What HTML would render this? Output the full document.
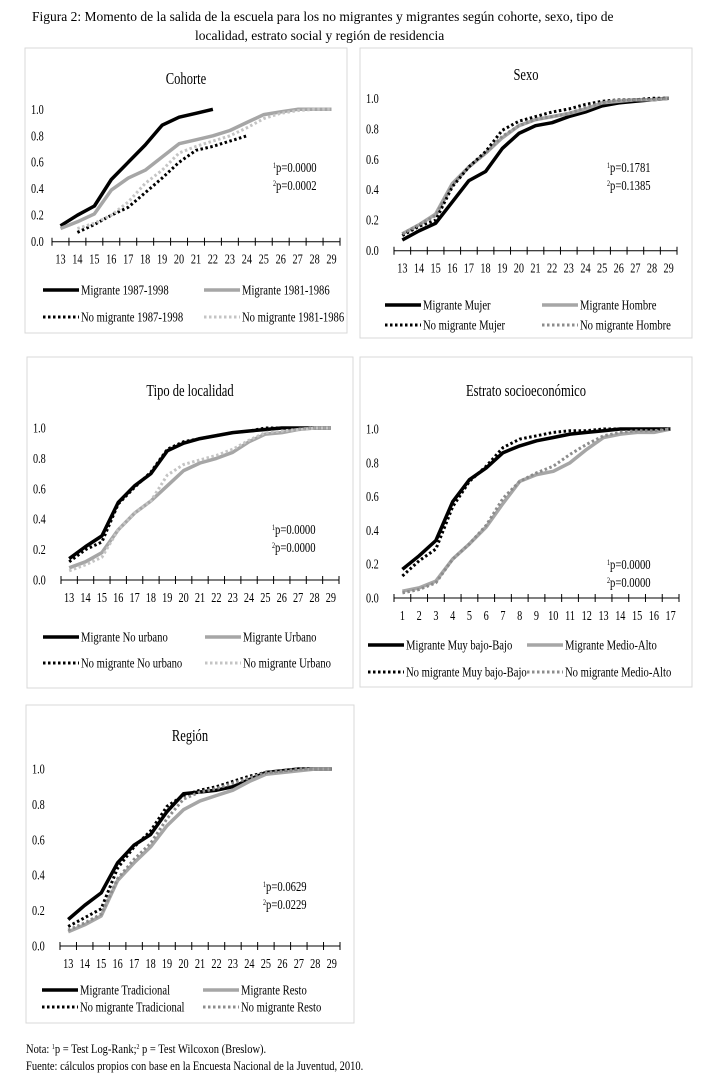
<!DOCTYPE html>
<html><head><meta charset="utf-8">
<style>
html,body{margin:0;padding:0;background:#fff;}
svg{display:block;font-family:"Liberation Serif",serif;}
</style></head>
<body>
<svg id="fig" width="705" height="1081" viewBox="0 0 705 1081" xmlns="http://www.w3.org/2000/svg">
<text x="32" y="21" font-size="13.5">Figura 2: Momento de la salida de la escuela para los no migrantes y migrantes según cohorte, sexo, tipo de</text>
<text x="195" y="40" font-size="13.5">localidad, estrato social y región de residencia</text>
<text x="26" y="1053" font-size="12.5" transform="translate(26 0) scale(0.84 1) translate(-26 0)">Nota: <tspan font-size="7" dy="-4">1</tspan><tspan dy="4">p = Test Log-Rank;</tspan><tspan font-size="7" dy="-4">2</tspan><tspan dy="4"> p = Test Wilcoxon (Breslow).</tspan></text>
<text x="26" y="1070" font-size="12.5" transform="translate(26 0) scale(0.84 1) translate(-26 0)">Fuente: cálculos propios con base en la Encuesta Nacional de la Juventud, 2010.</text>
</svg>
<script>
// ---- data ----
const ageCats = ["13","14","15","16","17","18","19","20","21","22","23","24","25","26","27","28","29"];
const estratoCats = ["1","2","3","4","5","6","7","8","9","10","11","12","13","14","15","16","17"];
const yTicks = [0,0.2,0.4,0.6,0.8,1.0];

const cohMig87 = [0.12,0.20,0.27,0.47,0.60,0.73,0.88,0.94,0.97,1.00,null,null,null,null,null,null,null];
const cohMig81 = [0.10,0.15,0.21,0.39,0.48,0.54,0.64,0.74,0.77,0.80,0.84,0.90,0.96,0.98,1.00,1.00,1.00];
const cohNM87 = [null,0.07,0.13,0.20,0.26,0.37,0.48,0.60,0.69,0.72,0.76,0.80,null,null,null,null,null];
const cohNM81 = [null,0.10,0.14,0.20,0.30,0.44,0.54,0.67,0.72,0.76,0.80,0.86,0.93,0.97,0.99,1.00,1.00];

const sexMigM = [0.07,0.13,0.18,0.32,0.46,0.52,0.67,0.77,0.82,0.84,0.88,0.91,0.95,0.97,0.98,0.99,1.00];
const sexMigH = [0.11,0.17,0.24,0.44,0.55,0.64,0.74,0.82,0.86,0.88,0.90,0.93,0.97,0.98,0.99,0.99,1.00];
const sexNMM = [0.10,0.16,0.20,0.42,0.55,0.65,0.79,0.85,0.88,0.91,0.93,0.96,0.98,0.99,0.99,1.00,1.00];
const sexNMH = [0.11,0.17,0.23,0.43,0.55,0.64,0.75,0.82,0.86,0.88,0.90,0.94,0.97,0.99,0.99,0.99,1.00];

const locMigNU = [0.14,0.22,0.29,0.51,0.62,0.70,0.85,0.90,0.93,0.95,0.97,0.98,0.99,1.00,1.00,1.00,1.00];
const locMigU = [0.08,0.12,0.18,0.33,0.44,0.52,0.62,0.72,0.77,0.80,0.84,0.91,0.96,0.97,0.99,1.00,1.00];
const locNMNU = [0.12,0.20,0.25,0.50,0.61,0.71,0.86,0.91,0.93,0.95,0.97,0.98,1.00,1.00,1.00,1.00,1.00];
const locNMU = [0.06,0.10,0.15,0.33,0.44,0.52,0.69,0.76,0.79,0.82,0.86,0.92,0.97,0.98,0.99,1.00,1.00];

const estMigB = [0.17,0.25,0.34,0.57,0.70,0.77,0.86,0.90,0.93,0.95,0.97,0.98,0.99,1.00,1.00,1.00,1.00];
const estMigA = [0.04,0.06,0.10,0.23,0.32,0.42,0.56,0.69,0.73,0.75,0.80,0.88,0.95,0.97,0.98,0.98,1.00];
const estNMB = [0.13,0.22,0.29,0.54,0.69,0.78,0.89,0.94,0.96,0.98,0.99,0.99,1.00,1.00,1.00,1.00,1.00];
const estNMA = [0.03,0.05,0.09,0.23,0.32,0.43,0.59,0.69,0.74,0.78,0.85,0.91,0.96,0.98,0.99,0.99,1.00];

const regMigT = [0.15,0.23,0.30,0.47,0.57,0.63,0.76,0.86,0.87,0.88,0.90,0.94,0.98,0.99,1.00,1.00,1.00];
const regMigR = [0.08,0.12,0.17,0.37,0.47,0.56,0.68,0.77,0.82,0.85,0.88,0.93,0.97,0.98,0.99,1.00,1.00];
const regNMT = [0.11,0.16,0.21,0.44,0.56,0.65,0.79,0.85,0.88,0.90,0.93,0.96,0.98,0.99,1.00,1.00,1.00];
const regNMR = [0.09,0.13,0.18,0.38,0.49,0.58,0.72,0.83,0.87,0.89,0.92,0.95,0.98,0.99,1.00,1.00,1.00];

const STY = {
  mig:  {stroke:"#000", w:3.5, dash:null},
  migG: {stroke:"#a6a6a6", w:3.5, dash:null},
  nm:   {stroke:"#000", w:3, dash:"2.5 2.5"},
  nmL:  {stroke:"#c4c4c4", w:3, dash:"2.5 2.5"},
  nmG:  {stroke:"#8c8c8c", w:3, dash:"2.5 2.5"}
};

const panels = [
 {name:"cohorte", title:"Cohorte", box:[25,48,322,285], x0:52, x1:340, y0:241.7, y1:109.3, titleY:84,
  cats:ageCats, p:["0.0000","0.0002"], px:273, py:172,
  series:[["Migrante 1987-1998",cohMig87,"mig"],["Migrante 1981-1986",cohMig81,"migG"],["No migrante 1987-1998",cohNM87,"nm"],["No migrante 1981-1986",cohNM81,"nmL"]],
  leg:{c1:43,c2:204,r1:290,r2:317,len:36}},
 {name:"sexo", title:"Sexo", box:[360,48,332,290], x0:394, x1:677, y0:250.7, y1:98.3, titleY:80,
  cats:ageCats, p:["0.1781","0.1385"], px:607, py:172,
  series:[["Migrante Mujer",sexMigM,"mig"],["Migrante Hombre",sexMigH,"migG"],["No migrante Mujer",sexNMM,"nm"],["No migrante Hombre",sexNMH,"nmG"]],
  leg:{c1:385,c2:542,r1:305,r2:325,len:36}},
 {name:"tipo-localidad", title:"Tipo de localidad", box:[27,357,326,331], x0:61, x1:339, y0:580, y1:428, titleY:396,
  cats:ageCats, p:["0.0000","0.0000"], px:272, py:534,
  series:[["Migrante No urbano",locMigNU,"mig"],["Migrante Urbano",locMigU,"migG"],["No migrante No urbano",locNMNU,"nm"],["No migrante Urbano",locNMU,"nmL"]],
  leg:{c1:43,c2:205,r1:637,r2:663,len:36}},
 {name:"estrato", title:"Estrato socioeconómico", box:[360,357,332,330], x0:394, x1:679, y0:598, y1:429, titleY:396,
  cats:estratoCats, p:["0.0000","0.0000"], px:607, py:569,
  series:[["Migrante Muy bajo-Bajo",estMigB,"mig"],["Migrante Medio-Alto",estMigA,"migG"],["No migrante Muy bajo-Bajo",estNMB,"nm"],["No migrante Medio-Alto",estNMA,"nmG"]],
  leg:{c1:368,c2:527,r1:645,r2:672,len:36}},
 {name:"region", title:"Región", box:[26,705,328,318], x0:60, x1:340, y0:946, y1:769, titleY:741,
  cats:ageCats, p:["0.0629","0.0229"], px:263, py:891,
  series:[["Migrante Tradicional",regMigT,"mig"],["Migrante Resto",regMigR,"migG"],["No migrante Tradicional",regNMT,"nm"],["No migrante Resto",regNMR,"nmG"]],
  leg:{c1:42,c2:203,r1:990,r2:1007,len:36}}
];

const NS="http://www.w3.org/2000/svg";
const svg=document.getElementById("fig");
const SX=0.76;
function mk(tag,attrs,parent){const e=document.createElementNS(NS,tag);for(const k in attrs)e.setAttribute(k,attrs[k]);(parent||svg).appendChild(e);return e;}
function mkText(x,y,size,anchor,parent){
  const e=mk("text",{x:x,y:y,"font-size":size,"text-anchor":anchor||"start",
    transform:"translate("+x+" 0) scale("+SX+" 1) translate("+(-x)+" 0)"},parent);
  return e;
}

panels.forEach(P=>{
  const g=mk("g",{});
  
  
  const [bx,by,bw,bh]=P.box;
  const box=mk("rect",{x:bx,y:by,width:bw,height:bh,fill:"#fff",stroke:"#d9d9d9","stroke-width":1},g);
  
  
  const t=mkText(bx+bw/2,P.titleY,16.5,"middle",g);
  t.textContent=P.title;
  
  
  const n=P.cats.length, cw=(P.x1-P.x0)/n;
  const xs=i=>P.x0+cw*(i+0.5);
  const ys=v=>P.y0-(P.y0-P.y1)*v;
  yTicks.forEach(v=>{
    const l=mkText(bx+6,ys(v)+4.5,13.5,"start",g);
    l.textContent=v.toFixed(1);
    
    
  });
  P.series.forEach(s=>{
    const st=STY[s[2]]; let d="";let started=false;
    s[1].forEach((v,i)=>{ if(v==null){started=false;return;} d+=(started?"L":"M")+xs(i).toFixed(1)+" "+ys(v).toFixed(1)+" ";started=true;});
    const a={d:d,fill:"none",stroke:st.stroke,"stroke-width":st.w,"stroke-linejoin":"round"};
    if(st.dash)a["stroke-dasharray"]=st.dash;
    const p=mk("path",a,g);
    
    
  });
  const ax=mk("line",{x1:P.x0,x2:P.x1,y1:P.y0,y2:P.y0,stroke:"#000","stroke-width":1},g);
  
  
  for(let i=0;i<=n;i++){
    const tk=mk("line",{x1:P.x0+cw*i,x2:P.x0+cw*i,y1:P.y0-4,y2:P.y0+4,stroke:"#000","stroke-width":1},g);
    
    
  }
  P.cats.forEach((c,i)=>{
    const l=mkText(xs(i),P.y0+22,13.5,"middle",g);
    l.textContent=c;
    
    
  });
  [0,1].forEach(k=>{
    const tt=mkText(P.px,P.py+k*18,14,"start",g);
    const sup=mk("tspan",{"font-size":8,dy:-4},tt); sup.textContent=String(k+1);
    const rest=mk("tspan",{dy:4},tt); rest.textContent="p="+P.p[k];
    
    
  });
  P.series.forEach((s,i)=>{
    const st=STY[s[2]];
    const lx=(i%2===0)?P.leg.c1:P.leg.c2, ly=(i<2)?P.leg.r1:P.leg.r2;
    const lg=mk("g",{},g);
    
    
    const a={x1:lx,x2:lx+P.leg.len,y1:ly,y2:ly,stroke:st.stroke,"stroke-width":st.w};
    if(st.dash)a["stroke-dasharray"]=st.dash;
    mk("line",a,lg);
    const tx=mkText(lx+P.leg.len+2,ly+4.5,14,"start",lg);
    tx.textContent=s[0];
  });
});
</script>
</body></html>
